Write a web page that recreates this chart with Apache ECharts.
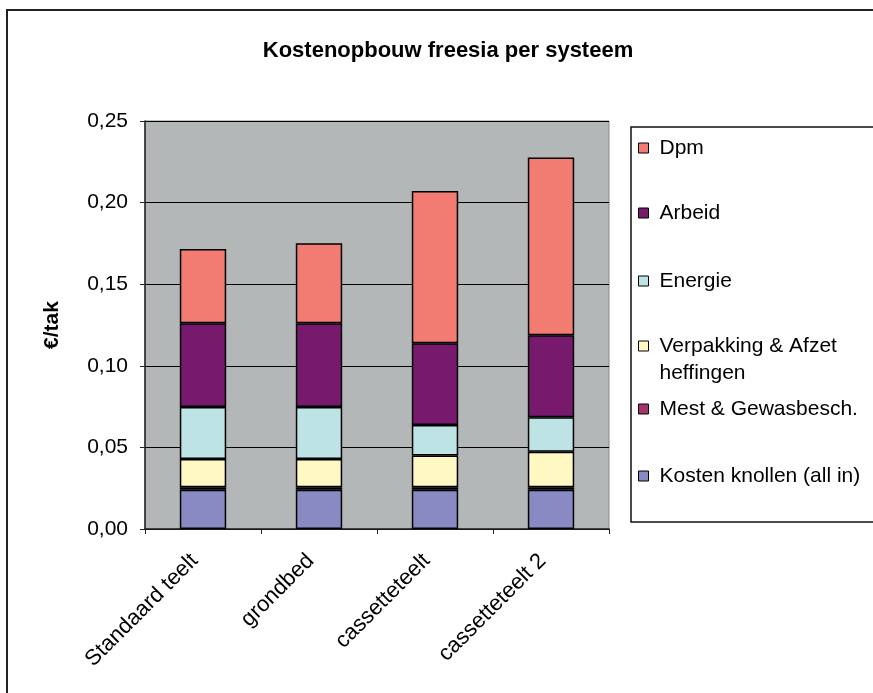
<!DOCTYPE html>
<html>
<head>
<meta charset="utf-8">
<script src="https://cdn.jsdelivr.net/npm/echarts@6/dist/echarts.min.js"></script>
<style>html,body{margin:0;padding:0;background:#fff;overflow:hidden;}#c{width:873px;height:693px;}</style>
</head>
<body>
<div id="c"></div>
<script>
const categories = ['Standaard teelt', 'grondbed', 'cassetteteelt', 'cassetteteelt 2'];
const kosten = [0.024, 0.024, 0.024, 0.024];
const mest = [0.0016, 0.0016, 0.0016, 0.0016];
const verpakking = [0.0173, 0.0173, 0.0194, 0.0218];
const energie = [0.0318, 0.0318, 0.0188, 0.0211];
const arbeid = [0.0514, 0.0514, 0.0500, 0.0502];
const dpm = [0.0455, 0.0490, 0.0933, 0.1090];
const yTicks = [0, 0.05, 0.10, 0.15, 0.20, 0.25];

const FONT = 'Liberation Sans, Arial, sans-serif';
const seriesDefs = [
  {name: 'Kosten knollen (all in)', data: kosten, color: '#8989C3'},
  {name: 'Mest & Gewasbesch.', data: mest, color: '#A6336B'},
  {name: 'Verpakking & Afzet heffingen', data: verpakking, color: '#FFF8C2'},
  {name: 'Energie', data: energie, color: '#BEE3E4'},
  {name: 'Arbeid', data: arbeid, color: '#771A6E'},
  {name: 'Dpm', data: dpm, color: '#F27C72'}
];
const legendCenters = {'Dpm': 148, 'Arbeid': 213, 'Energie': 281, 'Verpakking & Afzet heffingen': 346, 'Mest & Gewasbesch.': 409, 'Kosten knollen (all in)': 476};

const legends = seriesDefs.map(s => {
  const multi = s.name === 'Verpakking & Afzet heffingen';
  const c = legendCenters[s.name];
  return {
    data: [s.name],
    orient: 'vertical',
    left: 638,
    top: multi ? c - 40.5 : c - 12,
    padding: 0,
    itemWidth: 10,
    itemHeight: 10,
    selectedMode: false,
    icon: 'rect',
    itemStyle: {borderColor: '#000', borderWidth: 1},
    formatter: multi ? (n => '\u00a0\nVerpakking & Afzet\nheffingen') : (n => n),
    textStyle: {
      fontFamily: FONT, fontSize: 21, color: '#000',
      lineHeight: multi ? 27 : 24,
      padding: [0, 0, 0, 6]
    }
  };
});

const chart = echarts.init(document.getElementById('c'), null, {renderer: 'canvas'});
chart.setOption({
  animation: false,
  backgroundColor: '#fff',
  title: {
    text: 'Kostenopbouw freesia per systeem',
    left: 443, top: 35, textAlign: 'center',
    textStyle: {fontFamily: FONT, fontSize: 22, fontWeight: 'bold', color: '#000'}
  },
  graphic: [
    {type: 'polyline', shape: {points: [[7, 1000], [7, 10], [1000, 10]]}, style: {fill: null, stroke: '#222', lineWidth: 2}, silent: true},
    {type: 'polyline', shape: {points: [[1000, 127], [631, 127], [631, 522], [1000, 522]]}, style: {fill: null, stroke: '#111', lineWidth: 1.5}, silent: true}
  ],
  legend: legends,
  grid: {
    left: 145, top: 121, width: 464, height: 408,
    show: true, backgroundColor: '#B4B7B8', borderColor: '#888', borderWidth: 1
  },
  xAxis: {
    type: 'category',
    data: categories,
    boundaryGap: true,
    axisLine: {lineStyle: {color: '#222', width: 1.5}},
    axisTick: {show: true, length: 5, lineStyle: {color: '#222'}, alignWithLabel: false},
    axisLabel: {rotate: 45, margin: 20, padding: [0, 12, 0, 0], fontFamily: FONT, fontSize: 22, color: '#000', interval: 0}
  },
  yAxis: {
    type: 'value',
    min: yTicks[0], max: yTicks[yTicks.length - 1], interval: 0.05,
    name: '€/tak',
    nameLocation: 'middle',
    nameRotate: 90,
    nameGap: 82,
    nameTextStyle: {fontFamily: FONT, fontSize: 21, fontWeight: 'bold', color: '#000'},
    axisLine: {show: true, lineStyle: {color: '#222', width: 1.5}},
    axisTick: {show: true, length: 5, lineStyle: {color: '#222'}},
    axisLabel: {
      margin: 17, fontFamily: FONT, fontSize: 21, color: '#000',
      formatter: v => v.toFixed(2).replace('.', ',')
    },
    splitLine: {show: true, lineStyle: {color: '#000', width: 1}}
  },
  series: seriesDefs.map(s => ({
    name: s.name,
    type: 'bar',
    stack: 'total',
    barWidth: '40%',
    data: s.data,
    itemStyle: {color: s.color, borderColor: '#000', borderWidth: 1.5}
  }))
});
</script>
</body>
</html>
